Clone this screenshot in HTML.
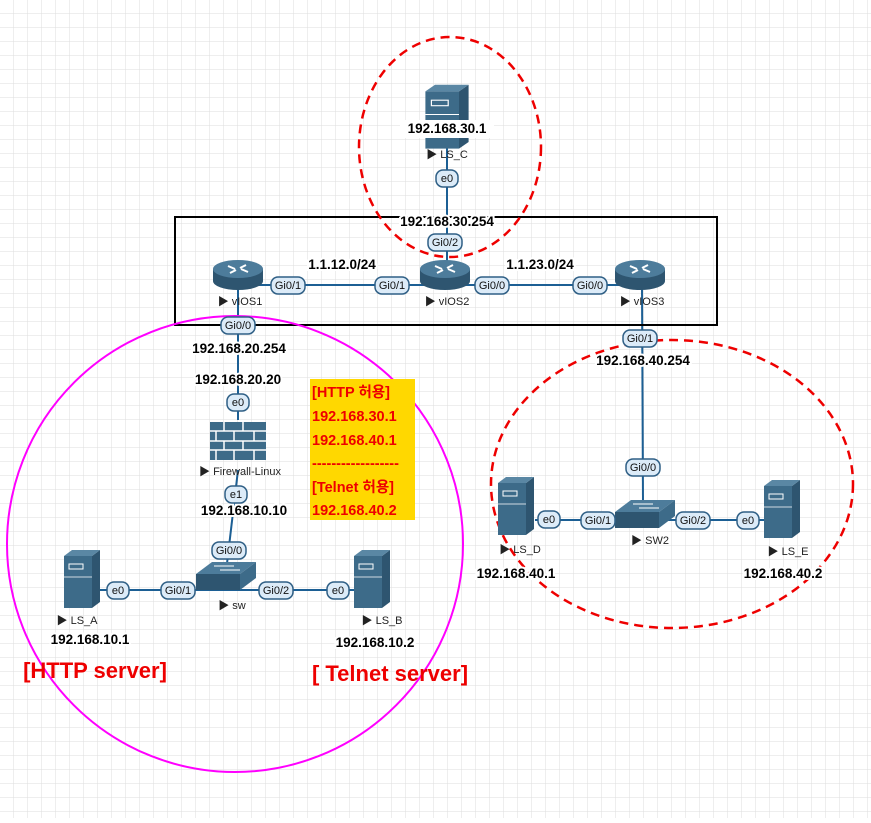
<!DOCTYPE html>
<html><head><meta charset="utf-8"><style>
body{margin:0;width:871px;height:818px;overflow:hidden;background:#fff}
text{font-family:"Liberation Sans","Noto Sans CJK KR",sans-serif}
.b{font-weight:bold;font-size:13.5px;fill:#000;paint-order:stroke;stroke:#fff;stroke-width:4px}
.n{font-size:11px;fill:#222}
.bd rect{fill:#dcebf8;stroke:#2f5f85;stroke-width:1.5}
.bd text{font-size:11px;fill:#111;text-anchor:middle}
.r{fill:#e00;font-weight:bold;font-size:14.5px}
</style></head><body>
<svg width="871" height="818" xmlns="http://www.w3.org/2000/svg">
<defs>
<pattern id="g" width="14" height="14" patternUnits="userSpaceOnUse"><path d="M14 0V14H0" fill="none" stroke="#dedede" stroke-width="1"/></pattern>
<g id="srv"><rect x="-18" y="-26" width="28" height="52" fill="#3d6b89"/><path d="M10 -26 L18 -32 L18 20 L10 26Z" fill="#2e5570"/><path d="M-18 -26 L-10 -32 L18 -32 L10 -26Z" fill="#5a87a4"/><rect x="-13" y="-18" width="14" height="5" fill="none" stroke="#fff" stroke-width="1"/><line x1="-18" y1="-5" x2="10" y2="-5" stroke="#fff" stroke-width="0.8"/></g>
<g id="rtr"><ellipse cx="0" cy="6" rx="25" ry="9" fill="#2e5570"/><rect x="-25" y="-6" width="50" height="12" fill="#2e5570"/><ellipse cx="0" cy="-6" rx="25" ry="9" fill="#4d7c9b"/><path d="M-10 -9 L-3 -6 M10 -3 L3 -6 M-8 -2 L-2 -5 M8 -10 L2 -7" stroke="#fff" stroke-width="2"/></g>
<g id="sw"><path d="M-28 -4 L-12 -16 L32 -16 L16 -4Z" fill="#4d7c9b"/><rect x="-28" y="-4" width="44" height="16" fill="#2e5570"/><path d="M16 -4 L32 -16 L32 0 L16 12Z" fill="#3d6b89"/><path d="M-10 -12 H10 M-4 -8 H16" stroke="#fff" stroke-width="1"/></g>
</defs>
<rect width="871" height="818" fill="url(#g)"/>
<g stroke="#1c5f94" stroke-width="2" fill="none">
<line x1="447" y1="148" x2="447" y2="262"/>
<line x1="238" y1="285" x2="640" y2="285"/>
<line x1="238" y1="285" x2="238" y2="420"/>
<line x1="238" y1="470" x2="226" y2="572"/>
<line x1="100" y1="590" x2="370" y2="590"/>
<line x1="642" y1="285" x2="643" y2="505"/>
<line x1="535" y1="520" x2="770" y2="520"/>
</g>
<rect x="175" y="217" width="542" height="108" fill="none" stroke="#000" stroke-width="2"/>
<ellipse cx="450" cy="147" rx="91" ry="110" fill="none" stroke="#e00" stroke-width="2.5" stroke-dasharray="9,6"/>
<circle cx="235" cy="544" r="228" fill="none" stroke="#f0f" stroke-width="2"/>
<ellipse cx="672" cy="484" rx="181" ry="144" fill="none" stroke="#e00" stroke-width="2.5" stroke-dasharray="9,6"/>
<rect x="310" y="379" width="105" height="141" fill="#ffd800"/>
<text class="r" x="312" y="397">[HTTP 허용]</text>
<text class="r" x="312" y="421">192.168.30.1</text>
<text class="r" x="312" y="445">192.168.40.1</text>
<text class="r" x="312" y="468">------------------</text>
<text class="r" x="312" y="492">[Telnet 허용]</text>
<text class="r" x="312" y="515">192.168.40.2</text>
<g transform="translate(447,120) scale(1.2,1.1)"><use href="#srv"/></g>
<rect x="400" y="120" width="94" height="18" fill="#fff"/>
<text class="b" x="447" y="133" text-anchor="middle">192.168.30.1</text>
<text class="n" x="447" y="158" text-anchor="middle">▶ LS_C</text>
<text class="b" x="447" y="226" text-anchor="middle">192.168.30.254</text>
<use href="#rtr" x="238" y="275"/><use href="#rtr" x="445" y="275"/><use href="#rtr" x="640" y="275"/>
<text class="n" x="240" y="305" text-anchor="middle">▶ vIOS1</text>
<text class="n" x="447" y="305" text-anchor="middle">▶ vIOS2</text>
<text class="n" x="642" y="305" text-anchor="middle">▶ vIOS3</text>
<text class="b" x="342" y="269" text-anchor="middle">1.1.12.0/24</text>
<text class="b" x="540" y="269" text-anchor="middle">1.1.23.0/24</text>
<text class="b" x="239" y="353" text-anchor="middle">192.168.20.254</text>
<text class="b" x="238" y="384" text-anchor="middle">192.168.20.20</text>
<g transform="translate(210,422)"><rect width="56" height="38" fill="#3d6b89"/><path d="M0 9H56M0 19H56M0 28H56M14 0V9M33 0V9M6 9V19M24 9V19M44 9V19M14 19V28M33 19V28M6 28V38M24 28V38M44 28V38" stroke="#fff" stroke-width="1.5"/></g>
<text class="n" x="240" y="475" text-anchor="middle">▶ Firewall-Linux</text>
<text class="b" x="244" y="515" text-anchor="middle">192.168.10.10</text>
<use href="#sw" x="224" y="578"/>
<text class="n" x="232" y="609" text-anchor="middle">▶ sw</text>
<use href="#srv" x="82" y="582"/><use href="#srv" x="372" y="582"/>
<text class="n" x="77" y="624" text-anchor="middle">▶ LS_A</text>
<text class="n" x="382" y="624" text-anchor="middle">▶ LS_B</text>
<text class="b" x="90" y="644" text-anchor="middle">192.168.10.1</text>
<text class="b" x="375" y="647" text-anchor="middle">192.168.10.2</text>
<text x="95" y="678" text-anchor="middle" style="fill:#e00;font-weight:bold;font-size:22px">[HTTP server]</text>
<text x="390" y="681" text-anchor="middle" style="fill:#e00;font-weight:bold;font-size:22px">[ Telnet server]</text>
<text class="b" x="643" y="365" text-anchor="middle">192.168.40.254</text>
<use href="#sw" x="643" y="516"/>
<text class="n" x="650" y="544" text-anchor="middle">▶ SW2</text>
<use href="#srv" x="516" y="509"/><use href="#srv" x="782" y="512"/>
<text class="n" x="520" y="553" text-anchor="middle">▶ LS_D</text>
<text class="n" x="788" y="555" text-anchor="middle">▶ LS_E</text>
<text class="b" x="516" y="578" text-anchor="middle">192.168.40.1</text>
<text class="b" x="783" y="578" text-anchor="middle">192.168.40.2</text>
<g class="bd">
<rect x="436" y="170" width="22" height="17" rx="7"/><text x="447" y="182">e0</text>
<rect x="428" y="234" width="34" height="17" rx="7"/><text x="445" y="246">Gi0/2</text>
<rect x="271" y="277" width="34" height="17" rx="7"/><text x="288" y="289">Gi0/1</text>
<rect x="375" y="277" width="34" height="17" rx="7"/><text x="392" y="289">Gi0/1</text>
<rect x="475" y="277" width="34" height="17" rx="7"/><text x="492" y="289">Gi0/0</text>
<rect x="573" y="277" width="34" height="17" rx="7"/><text x="590" y="289">Gi0/0</text>
<rect x="221" y="317" width="34" height="17" rx="7"/><text x="238" y="329">Gi0/0</text>
<rect x="227" y="394" width="22" height="17" rx="7"/><text x="238" y="406">e0</text>
<rect x="225" y="486" width="22" height="17" rx="7"/><text x="236" y="498">e1</text>
<rect x="212" y="542" width="34" height="17" rx="7"/><text x="229" y="554">Gi0/0</text>
<rect x="107" y="582" width="22" height="17" rx="7"/><text x="118" y="594">e0</text>
<rect x="161" y="582" width="34" height="17" rx="7"/><text x="178" y="594">Gi0/1</text>
<rect x="259" y="582" width="34" height="17" rx="7"/><text x="276" y="594">Gi0/2</text>
<rect x="327" y="582" width="22" height="17" rx="7"/><text x="338" y="594">e0</text>
<rect x="623" y="330" width="34" height="17" rx="7"/><text x="640" y="342">Gi0/1</text>
<rect x="626" y="459" width="34" height="17" rx="7"/><text x="643" y="471">Gi0/0</text>
<rect x="538" y="511" width="22" height="17" rx="7"/><text x="549" y="523">e0</text>
<rect x="581" y="512" width="34" height="17" rx="7"/><text x="598" y="524">Gi0/1</text>
<rect x="676" y="512" width="34" height="17" rx="7"/><text x="693" y="524">Gi0/2</text>
<rect x="737" y="512" width="22" height="17" rx="7"/><text x="748" y="524">e0</text>
</g>
</svg>
</body></html>
